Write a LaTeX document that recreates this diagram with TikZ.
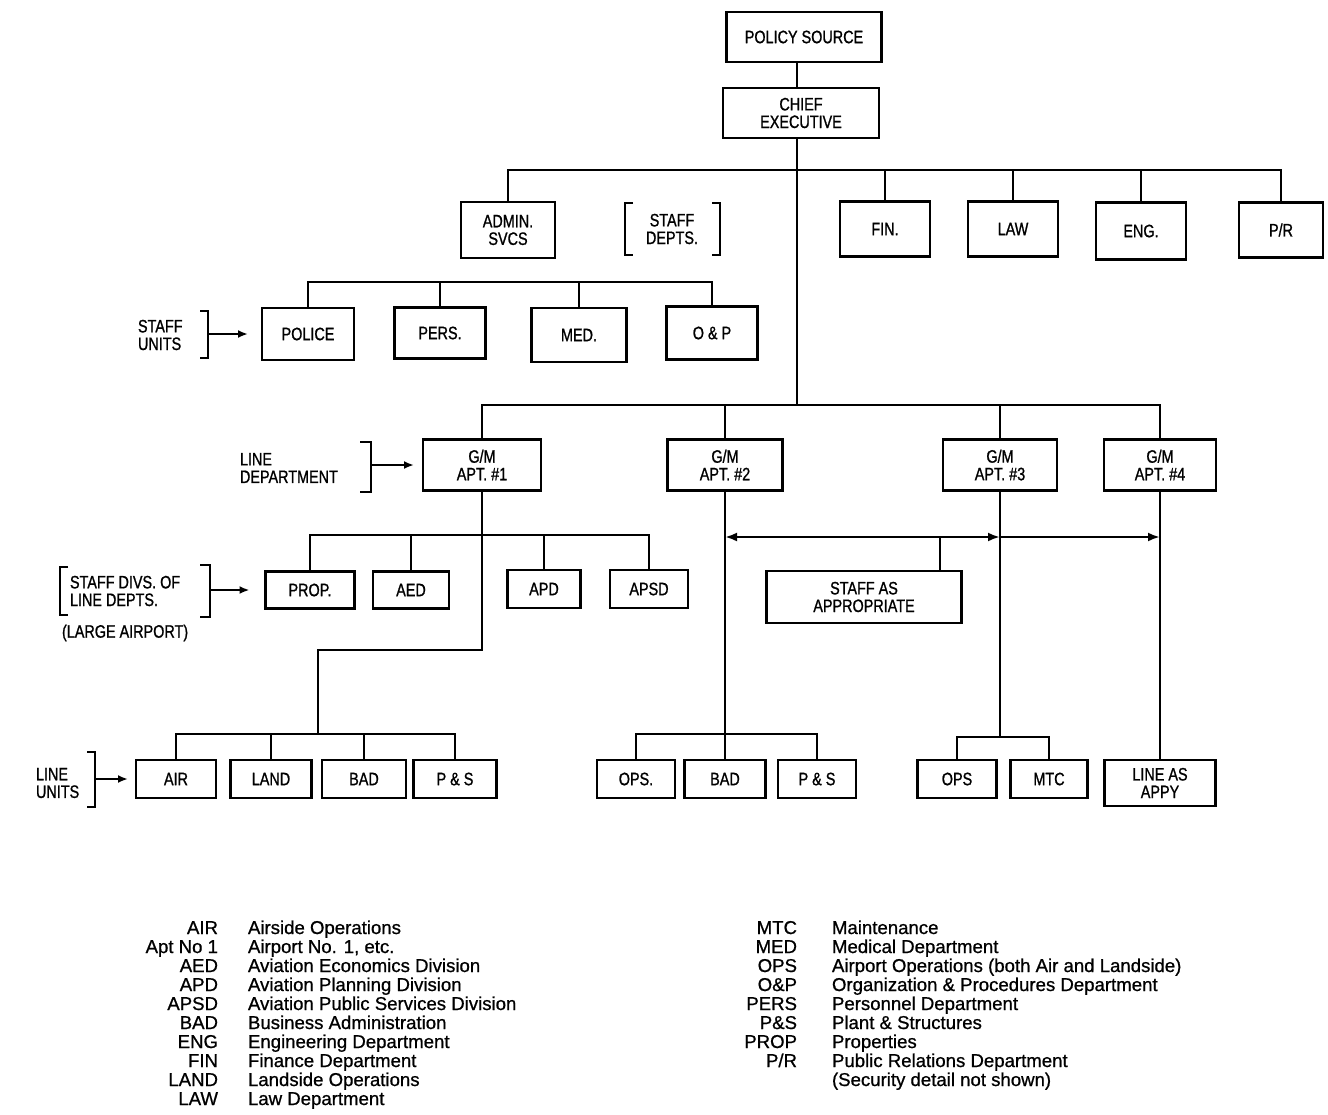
\documentclass[tikz,border=0pt]{standalone}
\usepackage{fontspec}
\setmainfont{Liberation Sans}[FakeBold=0.8]
\newfontfamily\narrowfont[FakeStretch=0.8,FakeBold=1]{Liberation Sans}
\usetikzlibrary{arrows.meta}

\begin{document}
\begin{tikzpicture}[x=0.5pt,y=-0.5pt,
  line width=1.4pt,
  every node/.style={inner sep=0pt, outer sep=0pt},
  txt/.style={font=\narrowfont\fontsize{9}{8.8}\selectfont, align=center},
  box/.style={txt, draw, line width=1.4pt},
  wh/.style 2 args={minimum width=#1*0.5pt, minimum height=#2*0.5pt},
  lbl/.style={font=\narrowfont\fontsize{9}{8.8}\selectfont, align=left, anchor=west},
  tip/.style={-{Latex[length=5pt,width=4pt]}},
  dtip/.style={-{Latex[length=6pt,width=4.5pt]}},
  leg/.style={font=\fontsize{9.3}{9.5}\selectfont}]

\useasboundingbox[fill=white] (0,0) rectangle (1328,1114);

% ---- top of the organisation
\node[box, wh={155}{50}] (ps) at (804,37) {POLICY SOURCE};
\node[box, wh={156}{50}] (ce) at (801,113) {CHIEF\\EXECUTIVE};
\coordinate (tr) at (797,170);
\coordinate (ld) at (797,405);

\node[box, wh={94}{56}] (adm) at (508,230) {ADMIN.\\SVCS};
\node[txt] (sdep) at (672,229) {STAFF\\DEPTS.};
\node[box, wh={90}{55}] (fin) at (885,229) {FIN.};
\node[box, wh={90}{55}] (law) at (1013,229) {LAW};
\node[box, wh={90}{57}] (eng) at (1141,231) {ENG.};
\node[box, wh={84}{55}] (pr) at (1281,230) {P/R};

\draw (ps.south -| tr) -- (ce.north -| tr);
\draw (ce.south -| tr) -- (tr) -- (ld);
\draw (adm.north) |- (tr) -| (pr.north);
\foreach \n in {fin,law,eng} \draw (\n.north) -- (\n.north |- tr);

% brackets round the staff departments label
\draw (633,203) -- (625,203) -- (625,255) -- (633,255);
\draw (712,203) -- (720,203) -- (720,255) -- (712,255);

% ---- staff units
\coordinate (su) at (510,282);
\node[box, wh={92}{52}] (pol) at (308,334) {POLICE};
\node[box, wh={91}{51}] (pers) at (440,333) {PERS.};
\node[box, wh={95}{54}] (med) at (579,335) {MED.};
\node[box, wh={91}{53}] (op) at (712,333) {O \& P};
\draw (pol.north) |- (su) -| (op.north);
\draw (pers.north) -- (pers.north |- su);
\draw (med.north) -- (med.north |- su);

\node[lbl] (sul) at (138,335) {STAFF\\UNITS};
\draw (200,311) -- (208,311) -- (208,358) -- (200,358);
\coordinate (sua) at (208,334);
\draw[tip] (sua) -- ([xshift=-7pt]pol.west);

% ---- line departments
\node[box, wh={118}{51}] (g1) at (482,465) {G/M\\APT. \#1};
\node[box, wh={115}{51}] (g2) at (725,465) {G/M\\APT. \#2};
\node[box, wh={114}{51}] (g3) at (1000,465) {G/M\\APT. \#3};
\node[box, wh={112}{51}] (g4) at (1160,465) {G/M\\APT. \#4};
\draw (g1.north) |- (ld) -| (g4.north);
\draw (g2.north) -- (g2.north |- ld);
\draw (g3.north) -- (g3.north |- ld);

\node[lbl] (ldl) at (240,468) {LINE\\DEPARTMENT};
\draw (360,442) -- (371,442) -- (371,492) -- (360,492);
\coordinate (lda) at (371,465);
\draw[tip] (lda) -- ([xshift=-4.5pt]g1.west);

% ---- staff divisions of line departments
\coordinate (sd) at (482,535);
\node[box, wh={89}{37}] (prop) at (310,590) {PROP.};
\node[box, wh={76}{37}] (aed) at (411,590) {AED};
\node[box, wh={73}{38}] (apd) at (544,589) {APD};
\node[box, wh={78}{38}] (apsd) at (649,589) {APSD};
\draw (prop.north) |- (sd) -| (apsd.north);
\draw (aed.north) -- (aed.north |- sd);
\draw (apd.north) -- (apd.north |- sd);

\draw (68,567) -- (60,567) -- (60,615) -- (68,615);
\draw (200,565) -- (210,565) -- (210,617) -- (200,617);
\node[lbl] (sdl) at (70,591) {STAFF DIVS. OF\\LINE DEPTS.};
\node[lbl] (lgap) at (62,633) {(LARGE AIRPORT)};
\coordinate (sda) at (210,590);
\draw[tip] (sda) -- ([xshift=-8pt]prop.west);

% ---- staff shared by airports 2 to 4
\coordinate (a2) at (725,537);
\coordinate (a3) at (1000,537);
\coordinate (a4) at (1160,537);
\coordinate (sx) at (940,537);
\draw[{Latex[length=6pt,width=4.5pt]}-{Latex[length=6pt,width=4.5pt]}] (a2) -- (a3);
\draw[dtip] (a3) -- (a4);
\node[box, wh={195}{52}] (saa) at (864,597) {STAFF AS\\APPROPRIATE};
\draw (sx) -- (saa.north -| sx);

% ---- line units, airport 1
\coordinate (k1) at (482,650);
\coordinate (lu1) at (318,734);
\draw (g1.south) -- (k1) -| (lu1);
\node[box, wh={80}{38}] (air) at (176,779) {AIR};
\node[box, wh={81}{38}] (land) at (271,779) {LAND};
\node[box, wh={84}{38}] (bad1) at (364,779) {BAD};
\node[box, wh={83}{38}] (pns1) at (455,779) {P \& S};
\draw (air.north) |- (lu1) -| (pns1.north);
\draw (land.north) -- (land.north |- lu1);
\draw (bad1.north) -- (bad1.north |- lu1);

\node[lbl] (lul) at (36,783) {LINE\\UNITS};
\draw (87,752) -- (95,752) -- (95,807) -- (87,807);
\coordinate (lua) at (95,779);
\draw[tip] (lua) -- ([xshift=-4pt]air.west);

% ---- line units, airport 2
\coordinate (lu2) at (725,734);
\draw (g2.south) -- (lu2);
\node[box, wh={78}{38}] (ops2) at (636,779) {OPS.};
\node[box, wh={81}{38}] (bad2) at (725,779) {BAD};
\node[box, wh={78}{38}] (pns2) at (817,779) {P \& S};
\draw (ops2.north) |- (lu2) -| (pns2.north);
\draw (bad2.north) -- (lu2);

% ---- line units, airport 3
\coordinate (lu3) at (1000,737);
\draw (g3.south) -- (lu3);
\node[box, wh={79}{38}] (ops3) at (957,779) {OPS};
\node[box, wh={77}{38}] (mtc) at (1049,779) {MTC};
\draw (ops3.north) |- (lu3) -| (mtc.north);

% ---- line units, airport 4
\node[box, wh={111}{46}] (lap4) at (1160,783) {LINE AS\\APPY};
\draw (g4.south) -- (lap4.north);

% ---- abbreviations
\foreach [count=\i] \ab/\de in {
  AIR/Airside Operations,
  Apt No 1/{Airport No. 1, etc.},
  AED/Aviation Economics Division,
  APD/Aviation Planning Division,
  APSD/Aviation Public Services Division,
  BAD/Business Administration,
  ENG/Engineering Department,
  FIN/Finance Department,
  LAND/Landside Operations,
  LAW/Law Department} {
  \node[leg, anchor=base east] (la\i) at (218,{934+19*(\i-1)}) {\ab};
  \node[leg, anchor=base west] (lb\i) at (248,{934+19*(\i-1)}) {\de};
}
\foreach [count=\i] \ab/\de in {
  MTC/Maintenance,
  MED/Medical Department,
  OPS/Airport Operations (both Air and Landside),
  O\&P/Organization \& Procedures Department,
  PERS/Personnel Department,
  P\&S/Plant \& Structures,
  PROP/Properties,
  {P/R}/Public Relations Department} {
  \node[leg, anchor=base east] (ra\i) at (797,{934+19*(\i-1)}) {\ab};
  \node[leg, anchor=base west] (rb\i) at (832,{934+19*(\i-1)}) {\de};
}
\node[leg, anchor=base west] (note) at (832,{934+19*8}) {(Security detail not shown)};

\end{tikzpicture}
\end{document}
